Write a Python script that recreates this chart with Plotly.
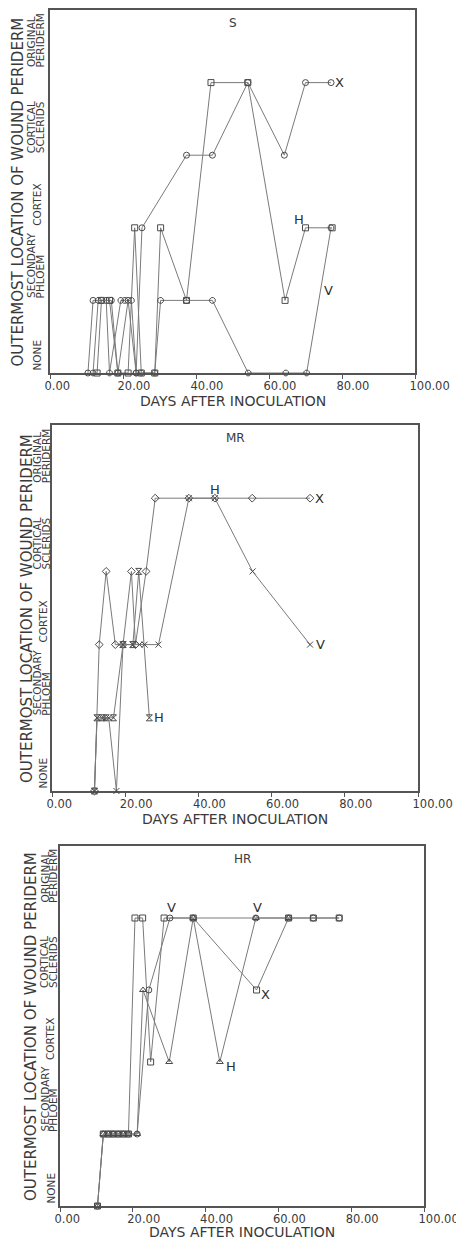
import plotly.graph_objects as go

# ---------------- data ----------------
panel_names = ["S", "MR", "HR"]
levels = [0, 1, 2, 3, 4]
level_line1 = ["", "SECONDARY", "", "CORTICAL", "ORIGINAL"]
level_line2 = ["NONE", "PHLOEM", "CORTEX", "SCLERIDS", "PERIDERM"]
x_tick_vals = [0, 20, 40, 60, 80, 100]
x_tick_text = ["0.00", "20.00", "40.00", "60.00", "80.00", "100.00"]
y_title = "OUTERMOST LOCATION OF WOUND PERIDERM"
x_title = "DAYS AFTER INOCULATION"

# Panel S
s_x_days = [10.4, 11.8, 14.1, 16.8, 18.6, 21.4, 23.6, 25.2, 37.4, 44.5, 54.2, 64.2, 70.0, 77.0]
s_x_lvl = [0, 1, 1, 1, 0, 1, 0, 2, 3, 3, 4, 3, 4, 4]
s_h_days = [12.9, 14.1, 16.3, 18.6, 21.4, 23.2, 25.0, 28.7, 30.3, 37.4, 44.1, 54.2, 64.4, 70.0, 77.3]
s_h_lvl = [0, 1, 1, 0, 0, 2, 0, 0, 2, 1, 4, 4, 1, 2, 2]
s_v_days = [11.8, 13.2, 15.4, 16.3, 19.4, 20.5, 22.3, 23.6, 25.0, 28.7, 30.3, 37.4, 44.5, 54.3, 64.6, 70.3, 77.0]
s_v_lvl = [0, 1, 1, 0, 1, 1, 1, 0, 0, 0, 1, 1, 1, 0, 0, 0, 2]

# Panel MR
mr_x_days = [11.6, 12.9, 14.8, 17.3, 19.4, 21.7, 22.8, 25.7, 28.2, 37.4, 44.5, 54.7, 70.5]
mr_x_lvl = [0, 2, 3, 2, 2, 3, 2, 3, 4, 4, 4, 4, 4]
mr_h_days = [11.6, 12.3, 13.6, 14.8, 16.8, 19.4, 22.1, 23.7, 26.6]
mr_h_lvl = [0, 1, 1, 1, 1, 2, 2, 3, 1]
mr_v_days = [11.6, 12.3, 14.1, 15.5, 17.6, 19.4, 22.1, 23.9, 25.3, 29.1, 37.4, 44.5, 54.8, 70.5]
mr_v_lvl = [0, 1, 1, 1, 0, 2, 2, 2, 2, 2, 4, 4, 3, 2]

# Panel HR
hr_x_days = [10.3, 11.9, 13.3, 14.6, 16.0, 17.4, 18.8, 20.6, 22.7, 24.9, 28.6, 36.6, 54.0, 62.8, 69.6, 76.7]
hr_x_lvl = [0, 1, 1, 1, 1, 1, 1, 4, 4, 2, 4, 4, 3, 4, 4, 4]
hr_h_days = [10.3, 11.9, 13.3, 14.6, 16.0, 17.4, 18.8, 21.2, 22.8, 30.0, 36.6, 43.9, 53.8, 62.8]
hr_h_lvl = [0, 1, 1, 1, 1, 1, 1, 1, 3, 2, 4, 2, 4, 4]
hr_v_days = [10.3, 11.9, 13.3, 14.6, 16.0, 17.4, 18.8, 21.2, 24.4, 30.2, 36.6, 53.8, 62.8, 69.6, 76.7]
hr_v_lvl = [0, 1, 1, 1, 1, 1, 1, 1, 3, 4, 4, 4, 4, 4, 4]

# Series labels
s_lbl_text = ["X", "H", "V"]
s_lbl_day = [79.3, 68.2, 76.2]
s_lbl_lvl = [4.0, 2.11, 1.14]
mr_lbl_text = ["X", "H", "V", "H"]
mr_lbl_day = [73.0, 44.6, 73.3, 29.1]
mr_lbl_lvl = [4.0, 4.12, 2.0, 1.0]
hr_lbl_text = ["V", "V", "X", "H"]
hr_lbl_day = [30.5, 54.3, 56.5, 46.9]
hr_lbl_lvl = [4.14, 4.14, 2.94, 1.94]

# ---------------- styling / layout ----------------
PAGE_W, PAGE_H = 464, 1241
OFF = 8  # default page body margin
W, H = PAGE_W - OFF, PAGE_H - OFF
boxes = [(50, 415, 10, 373), (52, 418, 425, 791), (60, 424, 846, 1206)]  # left,right,top,bottom (page px)
ytitle_x = [18, 27, 31]          # page px centres of the rotated axis title
cat_x = [(31, 40, 37), (37, 46, 43), (44, 53, 50)]  # line1, line2, single-line centres
cat_yshift = [0, 0, 0, 0, 13]
FONT = "DejaVu Sans"
TXT = "#3a3a3a"
LINEC = "#7a7a7a"
MARKC = "#4a4a4a"

panels = [
    [(s_x_days, s_x_lvl, "circle-open"), (s_h_days, s_h_lvl, "square-open"), (s_v_days, s_v_lvl, "octagon-open")],
    [(mr_x_days, mr_x_lvl, "diamond-open"), (mr_h_days, mr_h_lvl, "hourglass-open"), (mr_v_days, mr_v_lvl, "x-thin-open")],
    [(hr_x_days, hr_x_lvl, "square-open"), (hr_h_days, hr_h_lvl, "triangle-up-open"), (hr_v_days, hr_v_lvl, "circle-open")],
]
labels = [
    (s_lbl_text, s_lbl_day, s_lbl_lvl),
    (mr_lbl_text, mr_lbl_day, mr_lbl_lvl),
    (hr_lbl_text, hr_lbl_day, hr_lbl_lvl),
]


def px_x(p):
    return (p - OFF) / W


def px_y(p):
    return 1 - (p - OFF) / H


fig = go.Figure()
annotations = []
layout = {}

for i, (name, box, series, lbl) in enumerate(zip(panel_names, boxes, panels, labels)):
    left, right, top, bottom = box
    n = "" if i == 0 else str(i + 1)
    xa, ya = "x" + n, "y" + n
    for days, lvl, sym in series:
        fig.add_trace(go.Scatter(
            x=days, y=lvl, xaxis=xa, yaxis=ya, mode="lines+markers",
            line=dict(color=LINEC, width=1),
            marker=dict(symbol=sym, size=6, color=MARKC, line=dict(color=MARKC, width=1)),
            cliponaxis=False, showlegend=False, hoverinfo="skip",
        ))
    layout["xaxis" + n] = dict(
        domain=[px_x(left), px_x(right)], anchor=ya, range=[0, 100],
        tickvals=x_tick_vals, ticktext=x_tick_text, ticks="outside", ticklen=4,
        tickcolor="#555", tickwidth=1, ticklabelposition="outside right", ticklabelshift=-7,
        ticklabelstandoff=1,
        tickfont=dict(family=FONT, size=11.5, color=TXT), automargin=False,
        showline=True, mirror=True, linecolor="#555", linewidth=2,
        showgrid=False, zeroline=False, layer="below traces", fixedrange=True,
    )
    layout["yaxis" + n] = dict(
        domain=[px_y(bottom), px_y(top)], anchor=xa, range=[0, 5],
        showticklabels=False, ticks="", automargin=False,
        showline=True, mirror=True, linecolor="#555", linewidth=2,
        showgrid=False, zeroline=False, layer="below traces", fixedrange=True,
    )
    # panel title
    annotations.append(dict(text=name, xref="paper", yref="paper",
                            x=px_x((left + right) / 2), y=px_y(top + 13),
                            xanchor="center", yanchor="middle", showarrow=False,
                            font=dict(family=FONT, size=12, color=TXT)))
    # series labels
    for t, d, l in zip(*lbl):
        annotations.append(dict(text=t, xref=xa, yref=ya, x=d, y=l,
                                xanchor="center", yanchor="middle", showarrow=False,
                                font=dict(family=FONT, size=13, color="#2e2e2e")))
    # y title
    annotations.append(dict(text=y_title, xref="paper", yref="paper",
                            x=px_x(ytitle_x[i]), y=px_y((top + bottom) / 2 + 1),
                            xanchor="center", yanchor="middle", textangle=-90, showarrow=False,
                            font=dict(family=FONT, size=15, color=TXT)))
    # category labels (start at the level, read upward)
    c1, c2, cs = cat_x[i]
    for lv, l1, l2, ys in zip(levels, level_line1, level_line2, cat_yshift):
        if l1:
            annotations.append(dict(text=l1, xref="paper", yref=ya, x=px_x(c1), y=lv,
                                    xanchor="center", yanchor="bottom", textangle=-90, showarrow=False,
                                    yshift=ys, font=dict(family=FONT, size=10.5, color=TXT)))
            annotations.append(dict(text=l2, xref="paper", yref=ya, x=px_x(c2), y=lv,
                                    xanchor="center", yanchor="bottom", textangle=-90, showarrow=False,
                                    yshift=ys, font=dict(family=FONT, size=10.5, color=TXT)))
        else:
            annotations.append(dict(text=l2, xref="paper", yref=ya, x=px_x(cs), y=lv,
                                    xanchor="center", yanchor="bottom", textangle=-90, showarrow=False,
                                    yshift=ys, font=dict(family=FONT, size=10.5, color=TXT)))
    # x title
    annotations.append(dict(text=x_title, xref="paper", yref="paper",
                            x=px_x((left + right) / 2), y=px_y(min(bottom + 28, PAGE_H - 9)),
                            xanchor="center", yanchor="middle", showarrow=False, borderpad=0,
                            font=dict(family=FONT, size=14, color=TXT)))

fig.update_layout(
    width=W, height=H, margin=dict(l=0, r=0, t=0, b=0, autoexpand=False),
    paper_bgcolor="white", plot_bgcolor="white",
    annotations=annotations, **layout,
)

fig.write_html("out.html")
